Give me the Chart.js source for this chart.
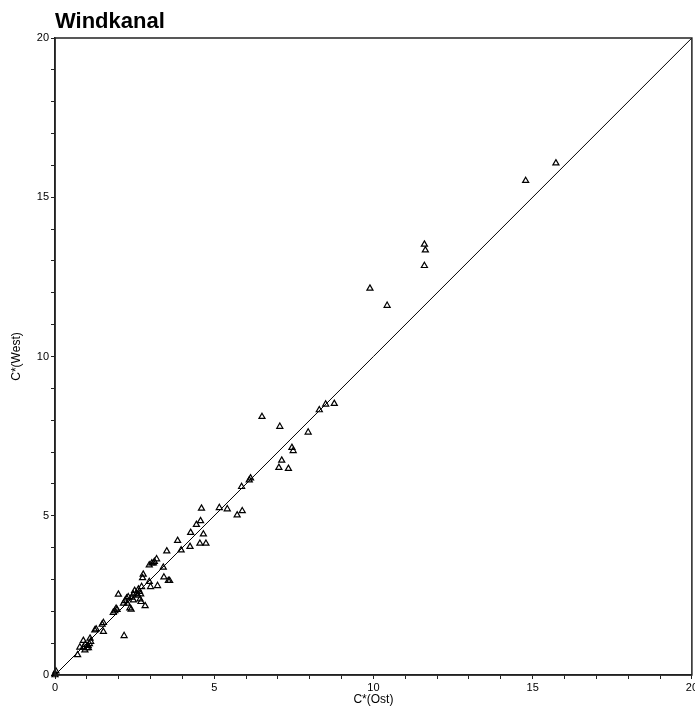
<!DOCTYPE html>
<html>
<head>
<meta charset="utf-8">
<title>Windkanal</title>
<script src="https://cdn.jsdelivr.net/npm/chart.js@4.4.1/dist/chart.umd.min.js"></script>
<style>
  html, body { margin: 0; padding: 0; background: #fff; overflow: hidden; }
  #wrap { width: 695px; height: 708px; overflow: hidden; }
</style>
</head>
<body>
<div id="wrap">
  <canvas id="windChart" width="700" height="708"></canvas>
</div>
<script>
// ================================================================
//  DATOS
// ================================================================
const titulo = 'Windkanal';
const etiquetaX = 'C*(Ost)';
const etiquetaY = 'C*(West)';
const ticksEtiquetados = [0, 5, 10, 15, 20];

// C*(Ost)
const ostValues = [
    0, 0, 0.03,
    0.71, 0.78, 0.89, 0.94, 1.05, 1.04, 1.08, 1.12, 1.10, 0.89, 0.95, 1.00,
    1.25, 1.29, 1.52, 1.48, 1.52,
    1.83, 1.88, 1.92, 1.99, 1.95,
    2.15, 2.20, 2.25, 2.27, 2.39, 2.35, 2.41, 2.46, 2.46, 2.56, 2.62, 2.65, 2.69, 2.67, 2.70, 2.72, 2.83, 2.17, 2.30, 2.50, 2.60,
    2.75, 2.77, 2.96, 3.00, 3.22, 2.96, 3.04, 3.09, 3.12, 3.19, 3.42, 3.40, 3.51, 3.56, 3.60,
    3.85, 3.96, 4.24, 4.26, 4.44, 4.57, 4.55, 4.74, 4.66, 4.60,
    5.16, 5.41, 5.72, 5.88, 5.86, 6.14, 6.10,
    6.50, 7.06, 7.95, 7.44, 7.48, 7.12, 7.03, 7.33, 8.30, 8.50, 8.77,
    9.89, 10.43, 11.60, 11.63, 11.60, 14.78, 15.73
];

// C*(West)
const westValues = [
    0, 0.05, 0.12,
    0.63, 0.87, 0.87, 0.78, 0.85, 0.92, 0.98, 1.05, 1.15, 1.08, 0.95, 0.85,
    1.41, 1.44, 1.36, 1.59, 1.64,
    1.96, 2.01, 2.09, 2.53, 2.05,
    2.25, 2.33, 2.41, 2.25, 2.06, 2.10, 2.44, 2.53, 2.35, 2.56, 2.69, 2.62, 2.54, 2.38, 2.30, 2.77, 2.17, 1.23, 2.45, 2.65, 2.50,
    3.05, 3.16, 2.93, 2.77, 2.80, 3.45, 3.51, 3.51, 3.56, 3.64, 3.07, 3.38, 3.89, 2.96, 2.96,
    4.22, 3.92, 4.03, 4.47, 4.72, 4.84, 4.13, 4.13, 4.42, 5.23,
    5.25, 5.21, 5.02, 5.15, 5.91, 6.18, 6.12,
    8.11, 7.80, 7.62, 7.14, 7.04, 6.74, 6.51, 6.48, 8.32, 8.50, 8.52,
    12.14, 11.60, 12.85, 13.34, 13.52, 15.52, 16.07
];

// Diagonal y = x
const diagX = [0, 20];
const diagY = [0, 20];

// ================================================================
//  CONFIGURACIÓN
// ================================================================
const puntos = ostValues.map((x, i) => ({ x: x, y: westValues[i] }));
const diagonal = diagX.map((x, i) => ({ x: x, y: diagY[i] }));

const fuenteTicks = { family: 'Liberation Sans', size: 11 };

// Marco completo + título arriba a la izquierda
const marcoPlugin = {
    id: 'marco',
    afterDraw(chart) {
        const { ctx, chartArea } = chart;
        ctx.save();
        ctx.strokeStyle = '#222';
        ctx.lineWidth = 1.5;
        ctx.strokeRect(chartArea.left, chartArea.top, chartArea.right - chartArea.left, chartArea.bottom - chartArea.top);
        ctx.fillStyle = '#000';
        ctx.font = 'bold 22px "Liberation Sans", Arial, sans-serif';
        ctx.textBaseline = 'alphabetic';
        ctx.textAlign = 'left';
        ctx.fillText(titulo, chartArea.left, 28);
        ctx.restore();
    }
};

const ejeComun = {
    type: 'linear',
    min: 0,
    max: 20,
    grid: {
        drawOnChartArea: false,
        drawTicks: true,
        tickLength: 4,
        color: '#222'
    },
    border: { display: true, color: '#222', width: 1.5 },
    ticks: {
        stepSize: 1,
        autoSkip: false,
        maxRotation: 0,
        color: '#000',
        font: fuenteTicks,
        padding: 2,
        callback: (v) => ticksEtiquetados.includes(v) ? String(v) : ''
    }
};

new Chart(document.getElementById('windChart').getContext('2d'), {
    type: 'scatter',
    data: {
        datasets: [
            {
                label: 'Messwerte',
                data: puntos,
                pointStyle: 'triangle',
                pointRadius: 3.5,
                pointBorderWidth: 1.2,
                pointBorderColor: '#000',
                pointBackgroundColor: 'rgba(255,255,255,0)',
                clip: false
            },
            {
                type: 'line',
                label: 'y = x',
                data: diagonal,
                borderColor: '#000',
                borderWidth: 1,
                pointRadius: 0,
                fill: false
            }
        ]
    },
    options: {
        responsive: false,
        animation: false,
        layout: { padding: { top: 38, left: 0, right: 0, bottom: 0 } },
        plugins: {
            legend: { display: false },
            tooltip: { enabled: false }
        },
        scales: {
            x: {
                ...ejeComun,
                position: 'bottom',
                title: {
                    display: true,
                    text: etiquetaX,
                    color: '#000',
                    font: { family: 'Liberation Sans', size: 12 },
                    padding: { top: 0, bottom: 1 }
                },
                afterFit: (scale) => { scale.height = 33; }
            },
            y: {
                ...ejeComun,
                position: 'left',
                title: {
                    display: true,
                    text: etiquetaY,
                    color: '#000',
                    font: { family: 'Liberation Sans', size: 12 },
                    padding: { top: 9, bottom: 0 }
                },
                afterFit: (scale) => { scale.width = 55; }
            }
        }
    },
    plugins: [marcoPlugin]
});
</script>
</body>
</html>
